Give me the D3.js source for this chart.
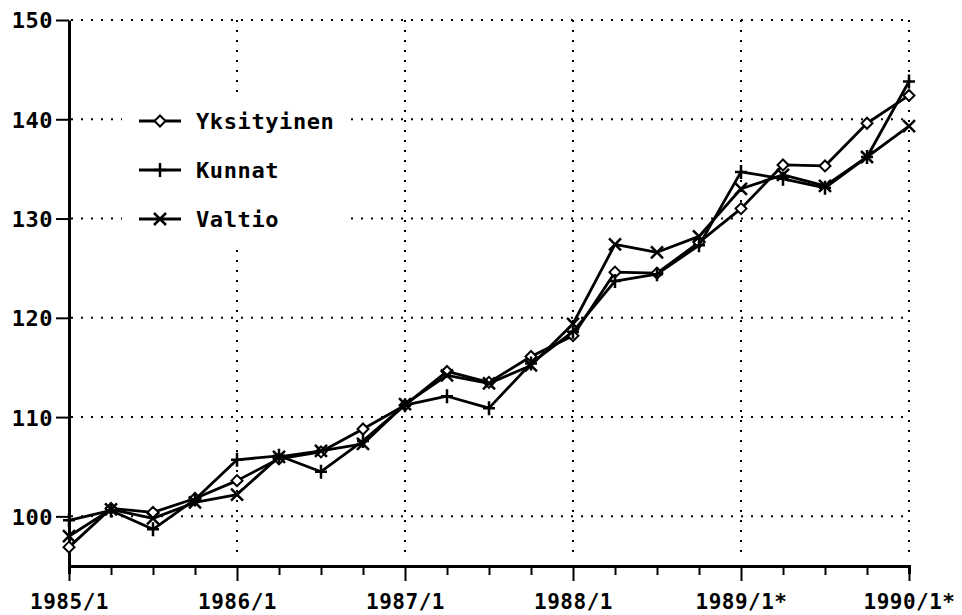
<!DOCTYPE html>
<html>
<head>
<meta charset="utf-8">
<script src="https://cdn.jsdelivr.net/npm/d3@7"></script>
<style>
  body { margin: 0; background: #fff; }
  text { font-family: "DejaVu Sans Mono", monospace; font-weight: bold; fill: #000; }
</style>
</head>
<body>
<svg id="chart" width="962" height="615"></svg>
<script>
// Quarterly index values, 1985/1 .. 1990/1 :
var quarters = ["1985/1","1985/2","1985/3","1985/4","1986/1","1986/2","1986/3","1986/4",
                "1987/1","1987/2","1987/3","1987/4","1988/1","1988/2","1988/3","1988/4",
                "1989/1","1989/2","1989/3","1989/4","1990/1"];
var yksityinen = [96.9, 100.8, 100.4, 101.8, 103.6, 105.8, 106.5, 108.8, 111.2, 114.6, 113.5,
                  116.1, 118.2, 124.6, 124.5, 127.6, 131.0, 135.4, 135.3, 139.6, 142.4];
var kunnat     = [99.6, 100.6, 98.7, 101.7, 105.7, 106.1, 104.5, 107.6, 111.2, 112.1, 110.9,
                  115.4, 118.6, 123.7, 124.4, 127.3, 134.7, 134.0, 133.1, 136.2, 143.8];
var valtio     = [98.0, 100.7, 99.8, 101.4, 102.2, 106.0, 106.6, 107.3, 111.3, 114.2, 113.4,
                  115.2, 119.4, 127.4, 126.6, 128.2, 133.0, 134.4, 133.3, 136.2, 139.3];
var yearTicks  = ["1985/1","1986/1","1987/1","1988/1","1989/1","1990/1"];
var yearLabels = ["1985/1","1986/1","1987/1","1988/1","1989/1*","1990/1*"];
var yTicks = [100, 110, 120, 130, 140, 150];
var seriesNames = ["Yksityinen", "Kunnat", "Valtio"];

var svg = d3.select("#chart");

var x = d3.scalePoint().domain(quarters).range([69, 909]);
var y = d3.scaleLinear().domain([95, 150]).range([566, 20]);

// dotted grid :
var grid = svg.append("g");
grid.selectAll(".hgrid").data(yTicks).enter().append("line")
    .attr("x1", 71).attr("x2", x("1990/1"))
    .attr("y1", function(d) { return y(d); }).attr("y2", function(d) { return y(d); })
    .style("stroke", "#000").style("stroke-width", 2).style("stroke-dasharray", "2,8");
grid.selectAll(".vgrid").data(yearTicks.slice(1)).enter().append("line")
    .attr("x1", function(d) { return x(d); }).attr("x2", function(d) { return x(d); })
    .attr("y1", y(150)).attr("y2", 560)
    .style("stroke", "#000").style("stroke-width", 2).style("stroke-dasharray", "2,8");

// legend background blanks out the grid :
svg.append("rect").attr("x", 122).attr("y", 100).attr("width", 222).attr("height", 146)
   .style("fill", "#fff");

// axes :
var xAxis = d3.axisBottom(x).tickSizeOuter(0)
    .tickSize(8).tickFormat("");
var gx = svg.append("g").attr("transform", "translate(0," + y(95) + ")").call(xAxis);
gx.select(".domain").style("stroke-width", 3);
gx.selectAll(".tick line").style("stroke-width", 2)
  .attr("y2", function(d) { return yearTicks.indexOf(d) >= 0 ? 15 : 9; });
gx.selectAll(".tick text").remove();
gx.selectAll(".tick").filter(function(d) { return yearTicks.indexOf(d) >= 0; })
  .append("text")
  .attr("y", 43).attr("text-anchor", "middle")
  .style("font-size", "21px").style("letter-spacing", "0.5px")
  .text(function(d) { return yearLabels[yearTicks.indexOf(d)]; });

var yAxis = d3.axisLeft(y).tickValues(yTicks).tickSize(13).tickSizeOuter(0).tickFormat("");
var gy = svg.append("g").attr("transform", "translate(" + x("1985/1") + ",0)").call(yAxis);
gy.select(".domain").style("stroke-width", 3);
gy.selectAll(".tick line").style("stroke-width", 2);
gy.selectAll(".tick text").remove();
gy.selectAll(".tick").append("text")
  .attr("x", -16).attr("dy", "0.36em").attr("text-anchor", "end")
  .style("font-size", "22px").style("letter-spacing", "0.5px")
  .text(function(d) { return d; });

// marker shapes :
function marker(sel, kind) {
  if (kind === 0) {
    sel.append("path").attr("d", "M0,-5.5L5.5,0L0,5.5L-5.5,0Z")
       .style("fill", "#fff").style("stroke", "#000").style("stroke-width", 2);
  } else if (kind === 1) {
    sel.append("path").attr("d", "M-6,0H6M0,-7V7")
       .style("fill", "none").style("stroke", "#000").style("stroke-width", 2.5);
  } else {
    sel.append("path").attr("d", "M-6,-6L6,6M-6,6L6,-6")
       .style("fill", "none").style("stroke", "#000").style("stroke-width", 2.5);
  }
}

var line = d3.line()
    .x(function(d, i) { return x(quarters[i]); })
    .y(function(d) { return y(d); });

[yksityinen, kunnat, valtio].forEach(function(values, k) {
  svg.append("path").datum(values).attr("d", line)
     .style("fill", "none").style("stroke", "#000").style("stroke-width", 2.8)
     .style("stroke-linejoin", "round");
  svg.selectAll(".m" + k).data(values).enter().append("g")
     .attr("transform", function(d, i) { return "translate(" + x(quarters[i]) + "," + y(d) + ")"; })
     .each(function() { marker(d3.select(this), k); });
});

// legend :
var legend = svg.append("g");
seriesNames.forEach(function(name, k) {
  var ly = 121 + k * 49;
  legend.append("line").attr("x1", 139).attr("x2", 181).attr("y1", ly).attr("y2", ly)
        .style("stroke", "#000").style("stroke-width", 2.8);
  marker(legend.append("g").attr("transform", "translate(160," + ly + ")"), k);
  legend.append("text").attr("x", 196).attr("y", ly).attr("dy", "0.36em")
        .style("font-size", "22px").style("letter-spacing", "0.6px")
        .text(name);
});
</script>
</body>
</html>
